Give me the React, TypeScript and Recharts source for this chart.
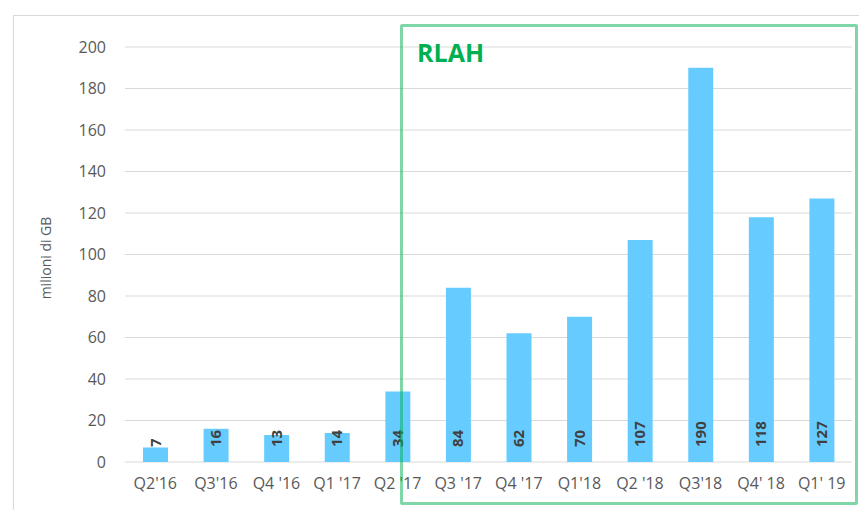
import React from 'react';
import {
  BarChart,
  Bar,
  XAxis,
  YAxis,
  CartesianGrid,
  LabelList,
  Label,
} from 'recharts';

const quarters = [
  "Q2'16",
  "Q3'16",
  "Q4 '16",
  "Q1 '17",
  "Q2 '17",
  "Q3 '17",
  "Q4 '17",
  "Q1'18",
  "Q2 '18",
  "Q3'18",
  "Q4' 18",
  "Q1' 19",
];
const traffic = [7, 16, 13, 14, 34, 84, 62, 70, 107, 190, 118, 127];
const yTicks = [0, 20, 40, 60, 80, 100, 120, 140, 160, 180, 200];

const chartData = quarters.map((q, i) => ({ quarter: q, value: traffic[i] }));

const FONT = '"Open Sans", Calibri, sans-serif';

// rotated value label sitting at the bottom of each bar
const BarValue = (props: any) => {
  const { x, y, width, height, value } = props;
  const cx = x + width / 2 + 5;
  const bottom = y + height - 15;
  return (
    <text
      x={cx}
      y={bottom}
      transform={`rotate(-90 ${cx} ${bottom})`}
      textAnchor="start"
      fill="#404040"
      fontSize={15}
      fontWeight="bold"
      fontFamily={FONT}
    >
      {value}
    </text>
  );
};

const AxisTitle = () => (
  <text
    x={51}
    y={258}
    transform="rotate(-90 51 258)"
    textAnchor="middle"
    fill="#595959"
    fontSize={14}
    fontFamily={FONT}
  >
    milioni di GB
  </text>
);

export default function App() {
  return (
    <div
      style={{
        position: 'absolute',
        left: 0,
        top: 0,
        width: 859,
        height: 510,
        background: '#ffffff',
        overflow: 'hidden',
      }}
    >
      {/* sheet edges behind the chart */}
      <div
        style={{
          position: 'absolute',
          left: 13,
          top: 15,
          right: 0,
          bottom: 0,
          borderTop: '1px solid #d9d9d9',
          borderLeft: '1px solid #d9d9d9',
        }}
      />
      <BarChart
        width={859}
        height={510}
        data={chartData}
        margin={{ top: 47, right: 7, bottom: 18, left: 50 }}
        barCategoryGap="0%"
        style={{ position: 'absolute', left: 0, top: 0 }}
      >
        <CartesianGrid vertical={false} stroke="#d9d9d9" />
        <XAxis
          dataKey="quarter"
          height={30}
          axisLine={false}
          tickLine={false}
          tickSize={0}
          tickMargin={16}
          interval={0}
          tick={{ fontSize: 16, fill: '#595959', fontFamily: FONT }}
        />
        <YAxis
          width={75}
          domain={[0, 200]}
          ticks={yTicks}
          axisLine={false}
          tickLine={false}
          tickSize={0}
          tickMargin={19}
          tick={{ fontSize: 16, fill: '#595959', fontFamily: FONT }}
        >
          <Label content={<AxisTitle />} />
        </YAxis>
        <Bar dataKey="value" fill="#66ccff" barSize={25} isAnimationActive={false}>
          <LabelList dataKey="value" content={<BarValue />} />
        </Bar>
      </BarChart>
      {/* RLAH highlight box */}
      <div
        style={{
          position: 'absolute',
          left: 400,
          top: 24,
          width: 458,
          height: 481,
          boxSizing: 'border-box',
          border: '3px solid rgba(0, 176, 80, 0.5)',
          borderRadius: 2,
        }}
      />
      <div
        style={{
          position: 'absolute',
          left: 417,
          top: 35,
          fontFamily: FONT,
          fontWeight: 'bold',
          fontSize: 25,
          color: '#00b050',
          lineHeight: '34px',
        }}
      >
        RLAH
      </div>
    </div>
  );
}
